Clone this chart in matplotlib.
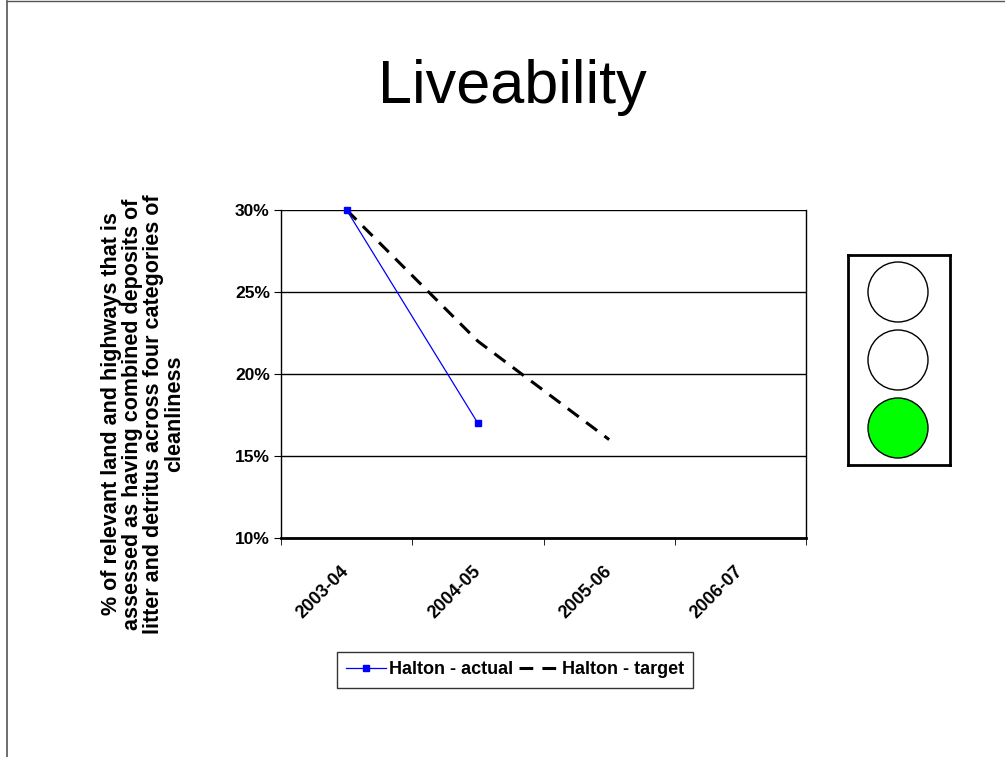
"""Liveability slide: street cleanliness, actual vs target, with a traffic light."""

import matplotlib
matplotlib.use("Agg")
import matplotlib.pyplot as plt
from matplotlib.lines import Line2D
from matplotlib.patches import Circle
from matplotlib.ticker import FuncFormatter

plt.rcParams["font.family"] = ["Liberation Sans", "DejaVu Sans"]

years = ["2003-04", "2004-05", "2005-06", "2006-07"]
actual = [30, 17]
target = [30, 22, 16]
y_ticks = [10, 15, 20, 25, 30]
light_fill = ["white", "white", "#00ff00"]  # top, middle, bottom

ylabel = ("% of relevant land and highways that is\n"
          "assessed as having combined deposits of\n"
          "litter and detritus across four categories of\n"
          "cleanliness")

W, H = 1005, 757
fig = plt.figure(figsize=(W / 100, H / 100), dpi=100)

# slide border
fig.add_artist(Line2D([7 / W, 1], [1 - 1 / H, 1 - 1 / H], color="#555555", lw=1))
fig.add_artist(Line2D([7 / W, 7 / W], [0, 1 - 1 / H], color="#555555", lw=1.2))

fig.text(512 / W, 1 - 88 / H, "Liveability", ha="center", va="center", fontsize=44)

ax = fig.add_axes([281 / W, 1 - 538 / H, 525 / W, 328 / H])
x = list(range(len(years)))
ax.plot(x[:len(target)], target, color="black", lw=2.2, ls=(0, (4.5, 3)),
        label="Halton - target", zorder=3)
ax.plot(x[:len(actual)], actual, color="#0000ff", lw=0.9, marker="s", ms=5,
        label="Halton - actual", zorder=4, clip_on=False)

ax.set_xlim(-0.5, len(years) - 0.5)
ax.set_ylim(y_ticks[0], y_ticks[-1])
ax.set_yticks(y_ticks)
ax.yaxis.set_major_formatter(FuncFormatter(lambda v, _: f"{v:.0f}%"))
ax.grid(axis="y", color="black", lw=1)
ax.set_axisbelow(True)
for s in ax.spines.values():
    s.set_linewidth(1)
ax.spines["bottom"].set_linewidth(2)
ax.spines["top"].set_visible(False)

ax.set_xticks(x)
ax.set_xticklabels(years, rotation=45, ha="right", va="center",
                   rotation_mode="anchor", fontsize=13, fontweight="bold")
ax.set_xticks([i - 0.5 for i in range(len(years) + 1)], minor=True)
ax.tick_params(axis="x", which="major", length=0, pad=22)
ax.tick_params(axis="x", which="minor", length=5, direction="out")
ax.tick_params(axis="y", length=5, direction="out", pad=3)
for t in ax.get_yticklabels():
    t.set_fontsize(12.5)
    t.set_fontweight("bold")

fig.text(143 / W, 1 - 414 / H, ylabel, rotation=90, ha="center", va="center",
         multialignment="center", fontsize=15.5, fontweight="bold", linespacing=1.02)

handles, labels = ax.get_legend_handles_labels()
leg = fig.legend(handles[::-1], labels[::-1], loc="center", ncol=2,
                 bbox_to_anchor=(515 / W, 1 - 670 / H), frameon=True, fancybox=False,
                 edgecolor="black", prop={"weight": "bold", "size": 13},
                 handlelength=2.2, handletextpad=0.2, columnspacing=0.3,
                 borderpad=0.5)
leg.get_frame().set_linewidth(1)

# traffic light
tl = fig.add_axes([848 / W, 1 - 465 / H, 102 / W, 210 / H])
tl.set_xlim(0, 102)
tl.set_ylim(0, 210)
tl.set_xticks([])
tl.set_yticks([])
for s in tl.spines.values():
    s.set_linewidth(2)
for i, c in enumerate(light_fill):
    tl.add_patch(Circle((50, 173 - i * 68), 30, facecolor=c, edgecolor="black", lw=1))

fig.savefig("out.png", dpi=100)
